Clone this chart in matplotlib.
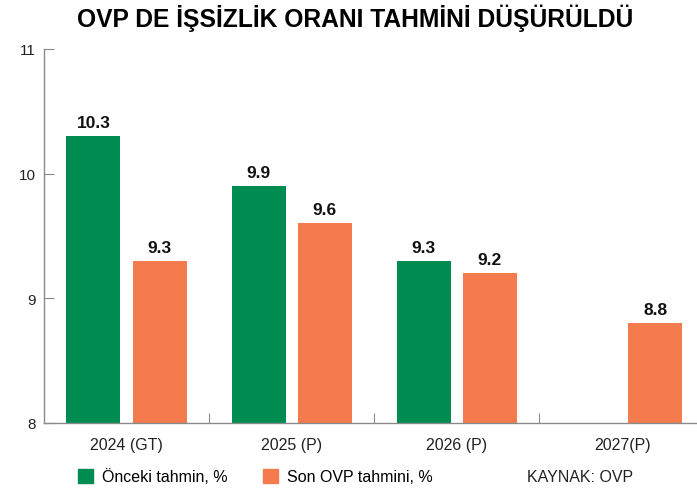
import numpy as np
import matplotlib
matplotlib.use("Agg")
import matplotlib.pyplot as plt
from matplotlib.patches import Patch

# chart data
years = ['2024 (GT)', '2025 (P)', '2026 (P)', '2027(P)']
onceki = [10.3, 9.9, 9.3, None]          # previous estimate (no value for 2027)
son_ovp = [9.3, 9.6, 9.2, 8.8]            # latest OVP estimate
y_ticks = [8, 9, 10, 11]

GREEN = '#008C50'
ORANGE = '#F47B4D'
AXIS_GRAY = '#8a8a8a'

plt.rcParams['font.family'] = ['Liberation Sans', 'DejaVu Sans']

fig = plt.figure(figsize=(6.97, 4.89), dpi=100)
ax = fig.add_axes([0.063, 0.133, 0.948, 0.765])

x = np.arange(len(years))
w = 0.327
off = 0.2

for i in range(len(years)):
    if onceki[i] is not None:
        ax.bar(x[i] - off, onceki[i] - 8, bottom=8, width=w, color=GREEN)
        ax.text(x[i] - off, onceki[i] + 0.05, f'{onceki[i]:.1f}', ha='center', va='bottom',
                fontsize=12.5, fontweight='bold', color='#111111')
    ax.bar(x[i] + off, son_ovp[i] - 8, bottom=8, width=w, color=ORANGE)
    ax.text(x[i] + off, son_ovp[i] + 0.05, f'{son_ovp[i]:.1f}', ha='center', va='bottom',
            fontsize=12.5, fontweight='bold', color='#111111')

ax.set_xlim(-0.5, 3.5)
ax.set_ylim(8, 11)
ax.set_yticks(y_ticks)
ax.set_yticklabels([str(t) for t in y_ticks])

# category ticks sit between the groups, labels centred on groups
ax.set_xticks(x[:-1] + 0.5)
ax.set_xticklabels([])
ax.set_xticks(x, minor=True)
ax.set_xticklabels(years, minor=True)
ax.tick_params(axis='x', which='minor', length=0, pad=10, labelsize=11.5, labelcolor='#222222')
ax.tick_params(axis='x', which='major', direction='in', length=7, color=AXIS_GRAY)
ax.tick_params(axis='y', direction='in', length=7, color=AXIS_GRAY, pad=6,
               labelsize=11, labelcolor='#222222')

for s in ['top', 'right']:
    ax.spines[s].set_visible(False)
for s in ['left', 'bottom']:
    ax.spines[s].set_color(AXIS_GRAY)
    ax.spines[s].set_linewidth(1.0)

fig.text(0.509, 0.963, 'OVP DE İŞSİZLİK ORANI TAHMİNİ DÜŞÜRÜLDÜ', ha='center', va='center',
         fontsize=17.7, fontweight='bold', color='#000000')

handles = [Patch(color=GREEN, label='Önceki tahmin, %'),
           Patch(color=ORANGE, label='Son OVP tahmini, %')]
fig.legend(handles=handles, loc='center left', bbox_to_anchor=(0.103, 0.024), ncol=2,
           frameon=False, fontsize=11.5, handlelength=0.95, handleheight=0.95,
           handletextpad=0.55, columnspacing=2.2, borderaxespad=0)
fig.text(0.756, 0.024, 'KAYNAK: OVP', ha='left', va='center', fontsize=11.5, color='#222222')

fig.savefig('out.png', dpi=100)
